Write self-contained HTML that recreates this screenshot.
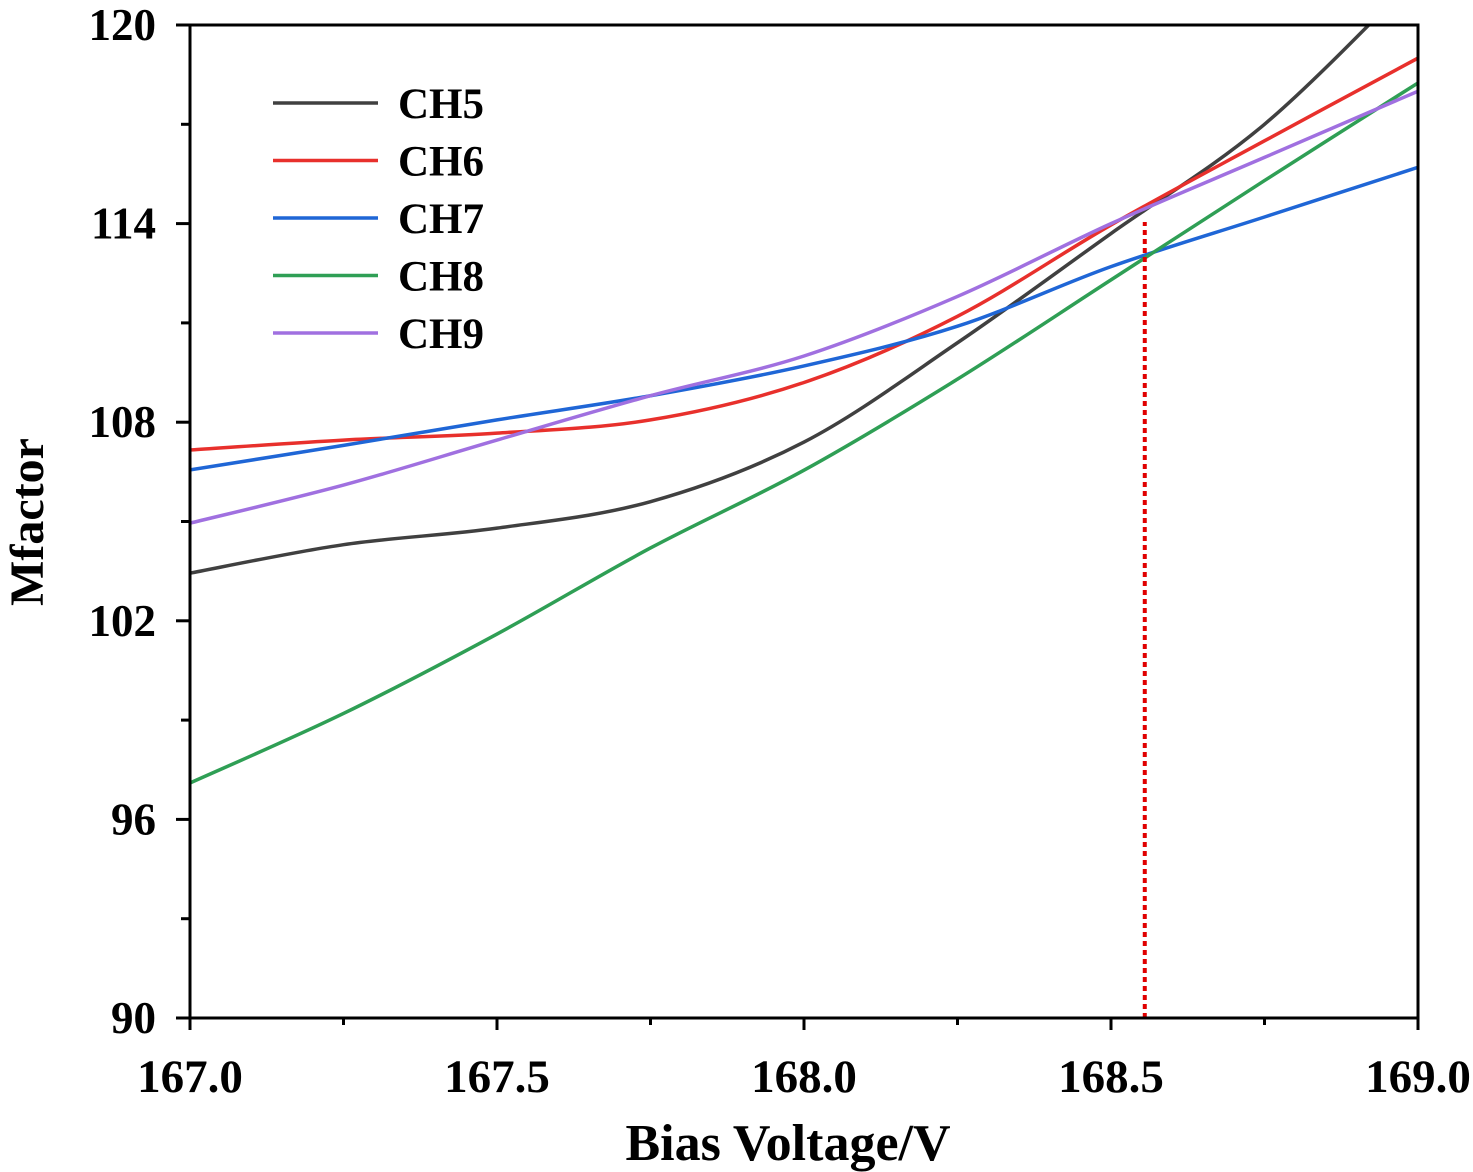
<!DOCTYPE html>
<html><head><meta charset="utf-8"><style>
body{margin:0;background:#fff}
svg{display:block;font-family:"Liberation Serif",serif;font-weight:bold}
</style></head><body>
<svg id="chart" width="1473" height="1172" viewBox="0 0 1473 1172">
<defs><clipPath id="clip"><rect x="190" y="25" width="1228" height="993"/></clipPath></defs>
<g id="series" clip-path="url(#clip)"></g>
<g id="axes"></g>
<g id="legend"></g>
</svg>
<script>
const xs = [167.0,167.25,167.5,167.75,168.0,168.25,168.5,168.75,169.0];
const ch5 = [103.44,104.3,104.8,105.6,107.4,110.4,113.7,117.0,121.5];
const ch6 = [107.16,107.46,107.67,108.07,109.2,111.2,113.96,116.5,119.0];
const ch7 = [106.56,107.3,108.07,108.8,109.7,110.9,112.7,114.2,115.7];
const ch8 = [97.1,99.2,101.6,104.2,106.55,109.3,112.3,115.3,118.25];
const ch9 = [104.95,106.1,107.46,108.8,110.0,111.8,114.0,116.0,118.0];
const seriesNames = ["CH5","CH6","CH7","CH8","CH9"];
const seriesColors = ["#404040","#e8302c","#1f66d6","#2f9f55","#a070e0"];
const xTicks = [167.0,167.5,168.0,168.5,169.0];
const yTicks = [90,96,102,108,114,120];
const markerX = 168.555;
const markerY = 114.05;

const NS="http://www.w3.org/2000/svg";
const X=v=>190+(v-167)/2*1228;
const Y=v=>1018-(v-90)/30*993;
function mk(tag,attrs,parent){const e=document.createElementNS(NS,tag);for(const k in attrs)e.setAttribute(k,attrs[k]);parent.appendChild(e);return e;}
const sg=document.getElementById('series'),ag=document.getElementById('axes'),lg=document.getElementById('legend');
function pathFor(vals){
  const p=xs.map((x,i)=>[X(x),Y(vals[i])]);
  let d=`M${p[0][0]},${p[0][1]}`;
  for(let i=0;i<p.length-1;i++){
    const p0=p[Math.max(0,i-1)],p1=p[i],p2=p[i+1],p3=p[Math.min(p.length-1,i+2)];
    const c1=[p1[0]+(p2[0]-p0[0])/6,p1[1]+(p2[1]-p0[1])/6];
    const c2=[p2[0]-(p3[0]-p1[0])/6,p2[1]-(p3[1]-p1[1])/6];
    d+=` C${c1[0]},${c1[1]} ${c2[0]},${c2[1]} ${p2[0]},${p2[1]}`;
  }
  return d;
}
[ch5,ch6,ch7,ch8,ch9].forEach((s,i)=>{
  const e=mk('path',{d:pathFor(s),fill:'none',stroke:seriesColors[i],'stroke-width':3.5},sg);
  
  
});
const mkr=mk('line',{x1:X(markerX),x2:X(markerX),y1:Y(90),y2:Y(markerY),stroke:'#e00000','stroke-width':4,'stroke-dasharray':'5,4'},sg);


const fr=mk('rect',{x:190,y:25,width:1228,height:993,fill:'none',stroke:'#000','stroke-width':3},ag);


xTicks.forEach((t,i)=>{
  mk('line',{x1:X(t),x2:X(t),y1:1018,y2:1030,stroke:'#000','stroke-width':3},ag);
  if(i<xTicks.length-1)mk('line',{x1:X(t+0.25),x2:X(t+0.25),y1:1018,y2:1025,stroke:'#000','stroke-width':3},ag);
  const tx=mk('text',{x:X(t),y:1092,'text-anchor':'middle','font-size':47},ag);
  tx.textContent=t.toFixed(1);
  
  
});
yTicks.forEach((t,i)=>{
  mk('line',{x1:176,x2:190,y1:Y(t),y2:Y(t),stroke:'#000','stroke-width':3},ag);
  if(i<yTicks.length-1)mk('line',{x1:181,x2:190,y1:Y(t+3),y2:Y(t+3),stroke:'#000','stroke-width':3},ag);
  const tx=mk('text',{x:156,y:Y(t)+15,'text-anchor':'end','font-size':45},ag);
  tx.textContent=t;
  
  
});
const xt=mk('text',{x:788,y:1160,'text-anchor':'middle','font-size':52},ag);
xt.textContent='Bias Voltage/V';


const yt=mk('text',{x:0,y:0,'text-anchor':'middle','font-size':48,transform:'translate(43,522) rotate(-90)'},ag);
yt.textContent='Mfactor';


seriesNames.forEach((n,i)=>{
  const yy=103+i*57.5;
  const g=mk('g',{},lg);
  
  
  mk('line',{x1:273,x2:378,y1:yy,y2:yy,stroke:seriesColors[i],'stroke-width':3.5},g);
  const t=mk('text',{x:398,y:yy+15,'font-size':43},g);
  t.textContent=n;
});
</script>
</body></html>
